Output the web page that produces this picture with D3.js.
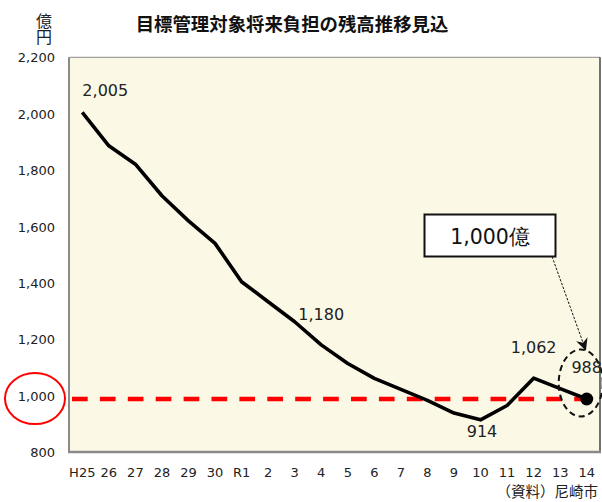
<!DOCTYPE html>
<html>
<head>
<meta charset="utf-8">
<script src="https://cdn.jsdelivr.net/npm/d3@7"></script>
<style>
  html, body { margin: 0; padding: 0; background: #fff; }
  svg { display: block; }
</style>
</head>
<body>
<svg id="chart" width="602" height="502"></svg>
<script>
// ---- data ----
const categories = ["H25","26","27","28","29","30","R1","2","3","4","5","6","7","8","9","10","11","12","13","14"];
const values = [2005,1886,1821,1709,1620,1540,1404,1333,1262,1180,1114,1061,1022,983,938,914,965,1062,1025,988];
const yTicks = [800,1000,1200,1400,1600,1800,2000,2200];
const labeledPoints = ["H25","4","10","12","14"];
const referenceValue = 988;
const titleText = "目標管理対象将来負担の残高推移見込";
const unitText = "億円";
const calloutText = "1,000億";
const sourceText = "（資料）尼崎市";

// ---- layout ----
const svg = d3.select("#chart");
const L = 69, R = 600, T = 57.3, B = 452;
const x = d3.scaleBand().domain(categories).range([L, R]).padding(0);
const cx = c => x(c) + x.bandwidth() / 2;
const y = d3.scaleLinear().domain([800, 2200]).range([B, T]);
const numFmt = d3.format(",");
const fontNum = "'DejaVu Sans', Verdana, sans-serif";
const fontCJK = "'Noto Sans CJK JP', 'Noto Sans', sans-serif";

// plot background
svg.append("rect").attr("x", L).attr("y", T).attr("width", R - L).attr("height", B - T)
  .attr("fill", "#FCF8E6");
// borders
svg.append("line").attr("x1", L).attr("x2", R).attr("y1", T).attr("y2", T).attr("stroke", "#8a8a8a").attr("stroke-width", 1);
svg.append("line").attr("x1", R).attr("x2", R).attr("y1", T).attr("y2", B).attr("stroke", "#444").attr("stroke-width", 1.5);
svg.append("line").attr("x1", L).attr("x2", L).attr("y1", T).attr("y2", B + 1).attr("stroke", "#8a8a8a").attr("stroke-width", 2);
svg.append("line").attr("x1", L - 1).attr("x2", R + 1).attr("y1", B).attr("y2", B).attr("stroke", "#8a8a8a").attr("stroke-width", 2.5);

// y axis
const yAxis = d3.axisLeft(y).tickValues(yTicks).tickFormat(numFmt).tickSize(0).tickPadding(0);
const gy = svg.append("g").attr("transform", `translate(55,0)`).call(yAxis);
gy.select(".domain").remove();
gy.selectAll("text").attr("font-family", fontNum).attr("font-size", 13).attr("fill", "#222")
  .attr("text-anchor", "end").attr("dy", "0.35em");

// x axis
const xAxis = d3.axisBottom(x).tickSize(0).tickPadding(0);
const gx = svg.append("g").attr("transform", `translate(0,${B})`).call(xAxis);
gx.select(".domain").remove();
gx.selectAll("text").attr("font-family", fontNum).attr("font-size", 13).attr("fill", "#222")
  .attr("y", 20.5).attr("dy", "0.35em");

// title
svg.append("text").attr("x", 292).attr("y", 25).attr("dy", "0.35em").attr("text-anchor", "middle")
  .attr("font-family", fontCJK).attr("font-weight", "bold").attr("font-size", 18.4).attr("fill", "#111")
  .text(titleText);

// unit (vertical)
svg.append("text").attr("x", 44).attr("y", 12.5)
  .attr("font-family", fontCJK).attr("font-size", 16).attr("fill", "#222")
  .style("writing-mode", "vertical-rl").attr("letter-spacing", 0.5).text(unitText);

// source
svg.append("text").attr("x", 598).attr("y", 492).attr("dy", "0.35em").attr("text-anchor", "end")
  .attr("font-family", fontCJK).attr("font-size", 14.5).attr("fill", "#222").text(sourceText);

// red dashed reference line
svg.append("line").attr("x1", x("H25") + 3).attr("x2", cx("14") + 6)
  .attr("y1", y(referenceValue)).attr("y2", y(referenceValue))
  .attr("stroke", "#FF0000").attr("stroke-width", 4.3).attr("stroke-dasharray", "15.7,12.2");

// red ellipse around 1,000 tick
svg.append("ellipse").attr("cx", 35).attr("cy", y(1000) + 3).attr("rx", 30).attr("ry", 25.5)
  .attr("fill", "none").attr("stroke", "#FF0000").attr("stroke-width", 2);

// main line
const data = categories.map((c, i) => ({ c, v: values[i] }));
const line = d3.line().x(d => cx(d.c)).y(d => y(d.v));
svg.append("path").datum(data).attr("d", line).attr("fill", "none")
  .attr("stroke", "#000").attr("stroke-width", 3.6).attr("stroke-linejoin", "round");

// final dot
const last = data[data.length - 1];
svg.append("circle").attr("cx", cx(last.c)).attr("cy", y(last.v)).attr("r", 6.5).attr("fill", "#000");

// dashed ellipse around final point
svg.append("ellipse").attr("cx", cx(last.c) - 6).attr("cy", y(last.v) - 16).attr("rx", 22).attr("ry", 33.5)
  .attr("fill", "none").attr("stroke", "#111").attr("stroke-width", 2).attr("stroke-dasharray", "6,4");

// data labels
const labelOffsets = { "H25": [23, -22, "middle"], "4": [0, -30, "middle"], "10": [1.5, 12, "middle"], "12": [0, -31, "middle"], "14": [0, -32, "middle"] };
svg.selectAll(".dl").data(data.filter(d => labeledPoints.includes(d.c))).enter().append("text")
  .attr("x", d => cx(d.c) + labelOffsets[d.c][0])
  .attr("y", d => y(d.v) + labelOffsets[d.c][1])
  .attr("dy", "0.35em").attr("text-anchor", d => labelOffsets[d.c][2])
  .attr("font-family", fontNum).attr("font-size", 16).attr("fill", "#222")
  .text(d => numFmt(d.v));

// callout box
const bx = 424.5, by = 214.5, bw = 131, bh = 42;
svg.append("rect").attr("x", bx).attr("y", by).attr("width", bw).attr("height", bh)
  .attr("fill", "#fff").attr("stroke", "#111").attr("stroke-width", 2);
svg.append("text").attr("x", bx + bw / 2).attr("y", by + bh / 2 + 1).attr("dy", "0.35em").attr("text-anchor", "middle")
  .attr("font-family", fontNum).attr("font-size", 20.5).attr("fill", "#111").text(calloutText);

// arrow
const defs = svg.append("defs");
defs.append("marker").attr("id", "arr").attr("viewBox", "0 0 10 10").attr("refX", 9).attr("refY", 5)
  .attr("markerWidth", 12).attr("markerHeight", 12).attr("markerUnits", "userSpaceOnUse").attr("orient", "auto")
  .append("path").attr("d", "M0,0 L10,5 L0,10 L3,5 Z").attr("fill", "#111");
svg.append("line").attr("x1", 552).attr("y1", by + bh).attr("x2", 585.5).attr("y2", 349.5)
  .attr("stroke", "#111").attr("stroke-width", 1).attr("stroke-dasharray", "2.5,1.5")
  .attr("marker-end", "url(#arr)");
</script>
</body>
</html>
